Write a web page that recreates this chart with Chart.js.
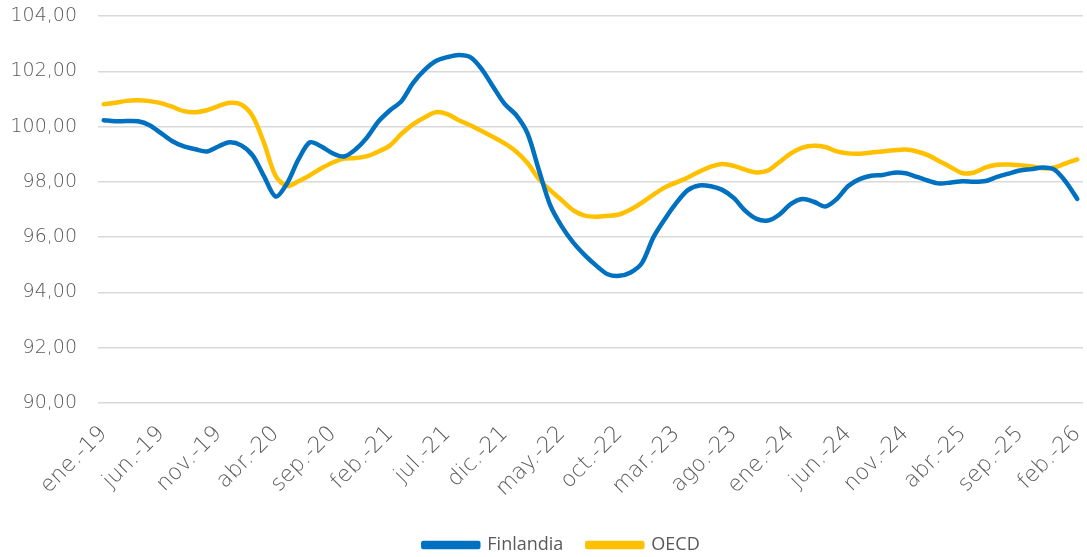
<!DOCTYPE html>
<html>
<head>
<meta charset="utf-8">
<script src="https://cdn.jsdelivr.net/npm/chart.js@4"></script>
<style>
  html, body { margin: 0; padding: 0; background: #fff; }
  #wrap { width: 1087px; height: 557px; }
</style>
</head>
<body>
<div id="wrap"><canvas id="chart"></canvas></div>
<script>
// meses ene.-19 ... feb.-26
const monthNames = ['ene.', 'feb.', 'mar.', 'abr.', 'may.', 'jun.', 'jul.', 'ago.', 'sep.', 'oct.', 'nov.', 'dic.'];
const labels = [];
for (let y = 19; y <= 26; y++) {
  for (let m = 0; m < 12; m++) {
    if (y === 26 && m > 1) break;
    labels.push(monthNames[m] + '-' + y);
  }
}

const finlandia = [
  100.23, 100.19, 100.20, 100.19, 100.05, 99.76, 99.47, 99.28, 99.18, 99.10,
  99.28, 99.43, 99.32, 98.96, 98.20, 97.47, 97.94, 98.81, 99.43, 99.28,
  99.03, 98.92, 99.18, 99.61, 100.19, 100.59, 100.92, 101.57, 102.04, 102.37,
  102.51, 102.59, 102.51, 102.08, 101.44, 100.82, 100.42, 99.75, 98.42, 97.14,
  96.38, 95.80, 95.35, 94.97, 94.66, 94.60, 94.72, 95.07, 96.00, 96.66,
  97.24, 97.70, 97.87, 97.84, 97.71, 97.42, 96.96, 96.66, 96.60, 96.82,
  97.20, 97.38, 97.28, 97.11, 97.38, 97.85, 98.10, 98.22, 98.25, 98.33,
  98.31, 98.18, 98.04, 97.94, 97.98, 98.02, 98.00, 98.03, 98.18, 98.30,
  98.41, 98.46, 98.52, 98.44, 98.00, 97.38
];

const oecd = [
  100.81, 100.86, 100.93, 100.95, 100.92, 100.85, 100.71, 100.56, 100.52, 100.59,
  100.74, 100.86, 100.80, 100.38, 99.40, 98.22, 97.85, 98.02, 98.24, 98.49,
  98.70, 98.84, 98.86, 98.93, 99.10, 99.32, 99.74, 100.08, 100.33, 100.52,
  100.45, 100.23, 100.05, 99.84, 99.62, 99.39, 99.10, 98.68, 98.10, 97.69,
  97.33, 96.97, 96.78, 96.74, 96.77, 96.82, 97.00, 97.25, 97.54, 97.80,
  97.98, 98.16, 98.37, 98.55, 98.65, 98.58, 98.44, 98.34, 98.41, 98.72,
  99.03, 99.24, 99.31, 99.26, 99.10, 99.03, 99.02, 99.06, 99.10, 99.14,
  99.17, 99.10, 98.96, 98.74, 98.52, 98.31, 98.34, 98.52, 98.62, 98.63,
  98.60, 98.56, 98.49, 98.52, 98.67, 98.81
];

const grey = '#595959';

// the legend in the original sits a bit right of centre
const shiftLegend = {
  id: 'shiftLegend',
  afterLayout(chart) {
    if (chart.legend) {
      chart.legend.left += 20;
      chart.legend.right += 20;
    }
  }
};

new Chart(document.getElementById('chart'), {
  type: 'line',
  data: {
    labels: labels,
    datasets: [
      {
        label: 'Finlandia',
        data: finlandia,
        borderColor: '#0070C0',
        backgroundColor: '#0070C0',
        borderWidth: 4.5,
        pointRadius: 0,
        tension: 0.3,
        borderCapStyle: 'round',
        borderJoinStyle: 'round'
      },
      {
        label: 'OECD',
        data: oecd,
        borderColor: '#FFC000',
        backgroundColor: '#FFC000',
        borderWidth: 4.5,
        pointRadius: 0,
        tension: 0.3,
        borderCapStyle: 'round',
        borderJoinStyle: 'round'
      }
    ]
  },
  plugins: [shiftLegend],
  options: {
    responsive: true,
    maintainAspectRatio: false,
    animation: false,
    layout: {
      autoPadding: false,
      padding: { top: 16, right: 4, left: 0, bottom: -7 }
    },
    plugins: {
      legend: {
        position: 'bottom',
        labels: {
          boxWidth: 55,
          boxHeight: 4,
          padding: 24,
          color: grey,
          font: { family: 'Open Sans', size: 18 }
        }
      },
      tooltip: { enabled: false }
    },
    scales: {
      x: {
        offset: true,
        afterFit: function (scale) {
          scale.height = 109;
          scale.paddingLeft = 0;
          scale.paddingRight = 0;
        },
        grid: { display: false },
        border: { display: false },
        ticks: {
          autoSkip: false,
          maxRotation: 45,
          minRotation: 45,
          padding: 10,
          color: grey,
          font: { family: 'DejaVu Sans', size: 22, weight: 200 },
          callback: function (value, index) {
            return index % 5 === 0 ? labels[index] : '';
          }
        }
      },
      y: {
        min: 90,
        max: 104,
        afterFit: function (scale) { scale.width = 98; },
        // invisible tick marks give the gap between labels and grid
        grid: { color: '#d9d9d9', lineWidth: 1.5, drawTicks: true, tickLength: 21, tickColor: 'rgba(0,0,0,0)' },
        border: { display: false },
        ticks: {
          stepSize: 2,
          padding: 0,
          color: grey,
          font: { family: 'DejaVu Sans', size: 19, weight: 200 },
          callback: function (v) { return v.toFixed(2).replace('.', ','); }
        }
      }
    }
  }
});
</script>
</body>
</html>
